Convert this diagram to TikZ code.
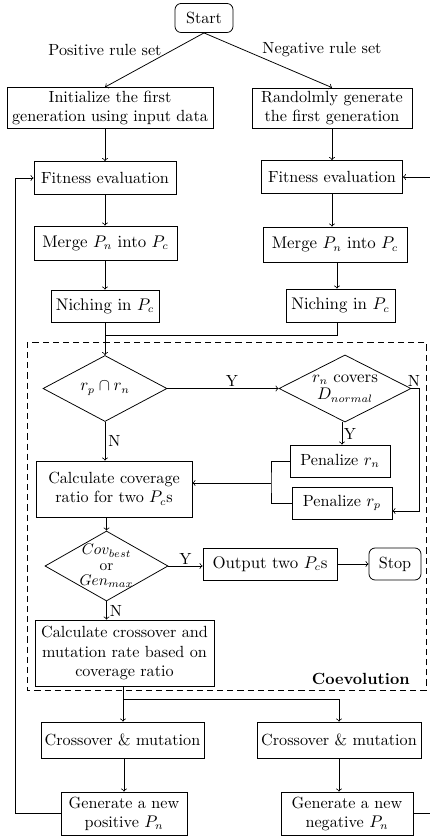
\documentclass[tikz,border=0pt]{standalone}
\usepackage{amssymb, amsmath}
\usetikzlibrary{shapes.geometric}

\tikzset{
  box/.style={draw, rectangle, align=center, inner sep=1pt},
  term/.style={draw, rectangle, rounded corners=4pt, inner sep=1pt},
  decision/.style={draw, diamond, inner sep=0pt},
  tag/.style={inner sep=1pt}
}

\begin{document}
\begin{tikzpicture}[x=0.65pt, y=-0.65pt, >=to, line width=0.5pt, font=\fontsize{10.5}{12.4}\selectfont]
    \useasboundingbox (0,0) rectangle (429,837);
    % two populations
    \node (start) [term, minimum width=37.7pt, minimum height=18.9pt] at (204,18) {Start};
    \node (init) [box, minimum width=133.9pt, minimum height=26.7pt] at (110,108) {Initialize the first\\generation using input data};
    \node (rand) [box, minimum width=104pt, minimum height=26pt] at (332,108) {Randolmly generate\\the first generation};
    \node (fitL) [box, minimum width=92.3pt, minimum height=21.5pt] at (105,178) {Fitness evaluation};
    \node (fitR) [box, minimum width=91.7pt, minimum height=21.5pt] at (332,177) {Fitness evaluation};
    \node (mergeL) [box, minimum width=93pt, minimum height=22.1pt] at (105.5,243) {$\mathrm{Merge}~P_n~\mathrm{into}~P_c$};
    \node (mergeR) [box, minimum width=93.6pt, minimum height=22.8pt] at (335,244.5) {$\mathrm{Merge}~P_n~\mathrm{into}~P_c$};
    \node (nichL) [box, minimum width=70.2pt, minimum height=20.8pt] at (105,306) {$\mathrm{Niching~in}~P_c$};
    \node (nichR) [box, minimum width=70.9pt, minimum height=21.5pt] at (340.5,305.5) {$\mathrm{Niching~in}~P_c$};
    \node (posl) [tag] at (105,50) {Positive rule set};
    \node (negl) [tag] at (322,50) {Negative rule set};

    % coevolution part
    \draw[dash pattern=on 4pt off 2.6pt] (27,342) rectangle (426,690);
    \node (d1) [decision, minimum width=80.6pt, minimum height=42.9pt] at (105,388.5) {};
    \node (d1t) at (d1) {$r_p\cap r_n$};
    \node (d2) [decision, minimum width=85.8pt, minimum height=43.6pt] at (345,388.5) {};
    \node (d2t) [align=center, inner sep=0pt] at (d2) {$r_n~\mathrm{covers}$\\[-1pt]$D_{normal}$};
    \node (penN) [box, minimum width=65pt, minimum height=20.8pt] at (340,461) {Penalize $r_n$};
    \node (penP) [box, minimum width=65pt, minimum height=20.8pt] at (342,503) {Penalize $r_p$};
    \node (calc) [box, minimum width=101.4pt, minimum height=36.4pt] at (114,489) {Calculate coverage\\ratio for two $P_c$s};
    \node (d3) [decision, minimum width=80pt, minimum height=45.5pt] at (106.5,566) {};
    \node (d3t) [align=center, inner sep=0pt, font=\fontsize{10}{11}\selectfont] at (d3) {$Cov_{best}$\\[-1pt]$\mathrm{or}$\\[-1pt]$Gen_{max}$};
    \node (out) [box, minimum width=87.1pt, minimum height=20.8pt] at (270,564) {$\mathrm{Output~two}~P_c\mathrm{s}$};
    \node (stop) [term, minimum width=33.8pt, minimum height=20.8pt] at (395,564) {Stop};
    \node (cross) [box, minimum width=116.4pt, minimum height=42.9pt] at (124.5,653) {Calculate crossover and\\mutation rate based on\\coverage ratio};
    \node (coev) [anchor=east, inner sep=0pt] at (410,679) {\textbf{Coevolution}};

    % new generations
    \node (crL) [box, minimum width=106pt, minimum height=23.4pt] at (122.5,740) {Crossover \& mutation};
    \node (crR) [box, minimum width=106.6pt, minimum height=23.4pt] at (339,740) {Crossover \& mutation};
    \node (genL) [box, minimum width=81.9pt, minimum height=28pt] at (124,813.5) {Generate a new\\positive $P_n$};
    \node (genR) [box, minimum width=85.8pt, minimum height=28pt] at (347,813.5) {Generate a new\\negative $P_n$};

    \coordinate (join) at (105,335);
    \coordinate (split) at (123,699);
    \coordinate (brk) at (271,483);
    \coordinate (nturn) at (419,388.5);

    \draw[->] (start.south) -- (init.north -| fitL);
    \draw[->] (start.south) -- (rand.north);
    \draw[->] (init.south -| fitL) -- (fitL);
    \draw[->] (rand) -- (fitR);
    \draw[->] (fitL) -- (mergeL.north -| fitL);
    \draw[->] (fitR) -- (mergeR.north -| fitR);
    \draw[->] (mergeL.south -| nichL) -- (nichL);
    \draw[->] (mergeR.south -| 337,0) -- (nichR.north -| 337,0);
    \draw (nichR.south -| 337,0) |- (join);
    \draw[->] (nichL) -- (d1);
    \draw[->] (d1.east) -- node[above, pos=0.58, inner sep=1pt] {Y} (d2.west);
    \draw[->] (d2.east) -- (nturn) |- ([yshift=-5.2pt]penP.east);
    \node (nl2) [tag, anchor=south] at (414,388.5) {N};
    \draw[->] (d2.south -| 342,0) -- node[right, inner sep=1pt] {Y} (penN.north -| 342,0);
    \draw (penN.west) -| (brk) |- (penP.west);
    \draw[->] (brk) -- (calc.east |- brk);
    \draw[->] (d1.south) -- node[right, inner sep=2pt] {N} (calc.north -| d1);
    \draw[->] (calc.south -| d3) -- (d3.north);
    \draw[->] (d3.east) -- node[above, inner sep=1pt] {Y} (out.west |- d3.east);
    \draw[->] (out) -- (stop);
    \draw[->] (d3.south) -- node[right, inner sep=2pt] {N} (cross.north -| d3);
    \draw (cross.south -| split) -- (split);
    \draw[->] (split) -- (crL.north -| split);
    \draw[->] (split) -| (crR);
    \draw[->] (crL.south -| genL) -- (genL);
    \draw[->] (crR) -- (genR.north -| crR);
    \draw[->] (genL.west) -- (15,813.5) |- (fitL.west);
    \draw[->] (genR.east) -- (430,813.5) |- (fitR.east);
\end{tikzpicture}
\end{document}
